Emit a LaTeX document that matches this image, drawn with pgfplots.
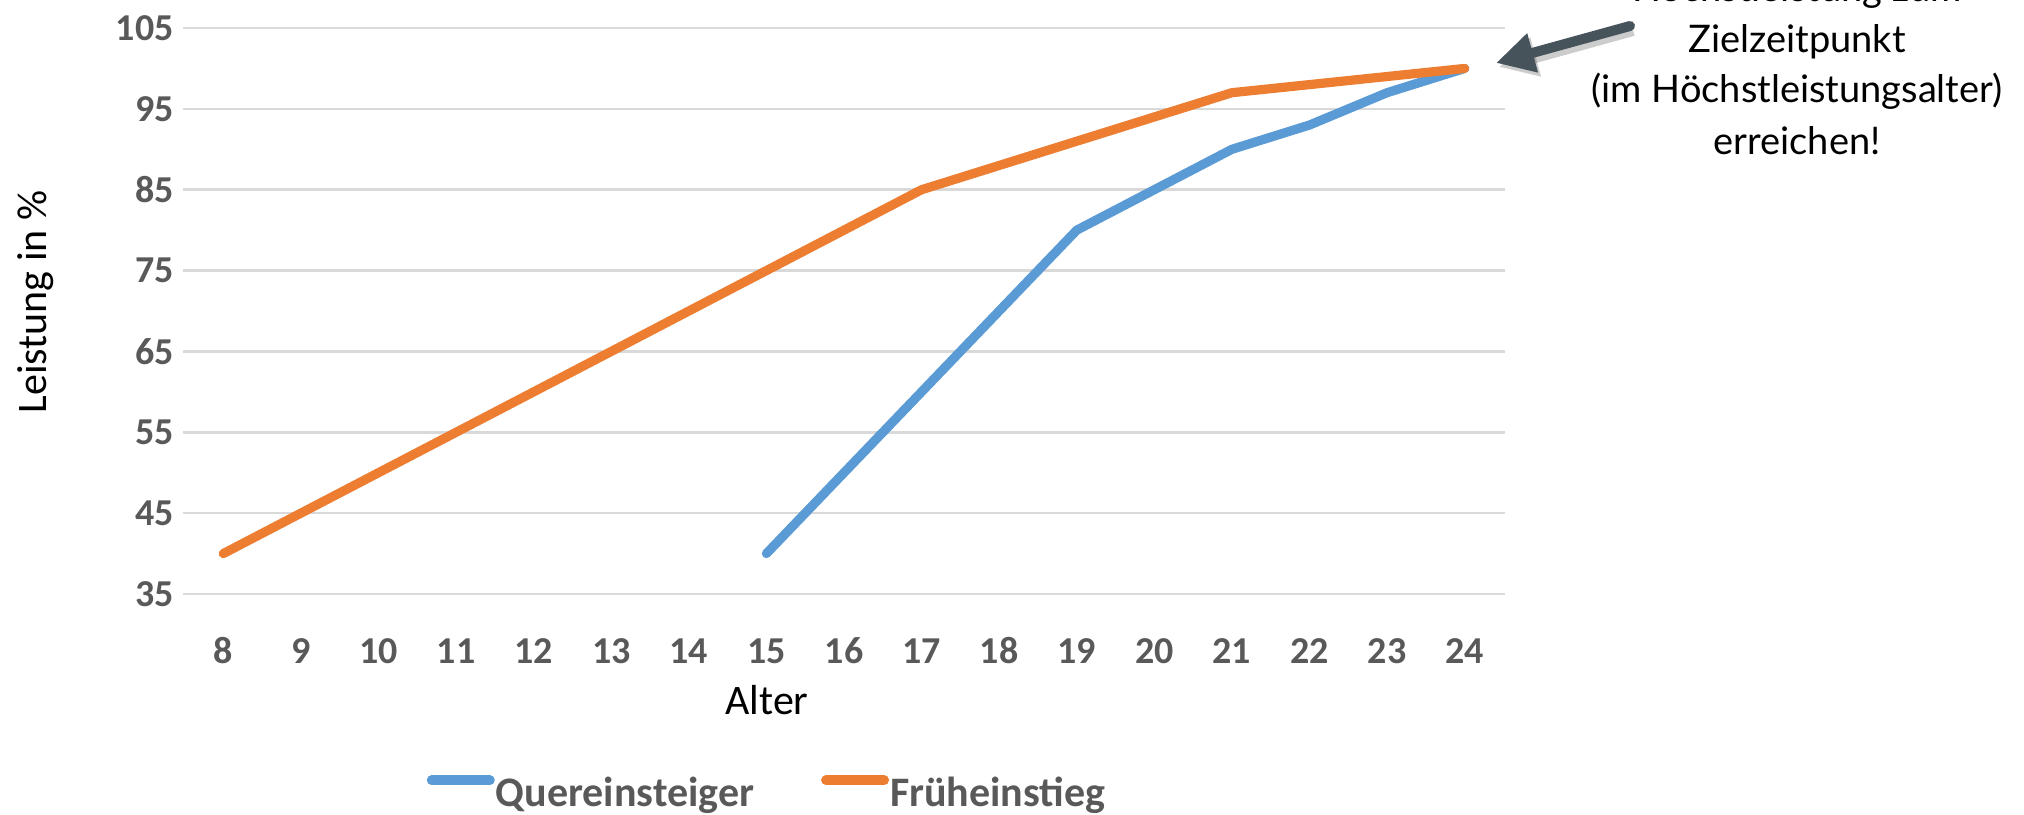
\documentclass[border=0pt]{standalone}
\usepackage{fontspec}
\setmainfont{Carlito}
\newfontfamily\annfont{Lato}
\usepackage{pgfplots}
\pgfplotsset{compat=1.18}
\usetikzlibrary{arrows.meta}

\definecolor{qblue}{HTML}{5B9BD5}
\definecolor{forange}{HTML}{ED7D31}
\definecolor{gridgray}{HTML}{D9D9D9}
\definecolor{ticktext}{HTML}{595959}
\definecolor{arrowgray}{HTML}{47535B}

\newcommand{\bigfont}{\fontsize{19bp}{23bp}\selectfont}
\newcommand{\labfont}{\fontsize{21bp}{25bp}\selectfont}

\begin{document}
\begin{tikzpicture}
\useasboundingbox (0,0) rectangle (1012bp,407.5bp);
\clip (0,0) rectangle (1012bp,407.5bp);
\begin{axis}[
    at={(91.5bp,110.5bp)},
    scale only axis,
    width=661bp,
    height=283bp,
    xmin=7.48, xmax=24.52,
    ymin=35, ymax=105,
    xtick={8,...,24},
    ytick={35,45,...,105},
    axis line style={draw=none},
    major tick length=0pt,
    ymajorgrids,
    grid style={gridgray, line width=1.3bp},
    /pgf/number format/assume math mode=true,
    tick label style={font=\bigfont\bfseries, text=ticktext},
    xticklabel style={anchor=base, inner sep=0pt, yshift=-34.5bp},
    yticklabel style={anchor=east, inner sep=0pt, xshift=-4.5bp},
    clip=false,
    legend columns=2,
    legend style={draw=none, fill=none, at={(0.4414,-0.3516)}, anchor=center,
        font=\labfont\bfseries, text=ticktext,
        nodes={inner sep=0.5bp},
        /tikz/every even column/.append style={column sep=33bp}},
    legend image code/.code={
        \draw[#1, line width=5bp, line cap=round] (2.5bp,6.5bp) -- (31.5bp,6.5bp);
    },
    ]
% Quereinsteiger
\addplot[qblue, line width=4.6bp, line join=round, line cap=round] coordinates {
    (15,40) (16,50) (17,60) (18,70) (19,80) (20,85)
    (21,90) (22,93) (23,97) (24,100)
};
\addlegendentry{Quereinsteiger}
% Frueheinstieg
\addplot[forange, line width=4.6bp, line join=round, line cap=round] coordinates {
    (8,40) (9,45) (10,50) (11,55) (12,60) (13,65) (14,70) (15,75) (16,80)
    (17,85) (18,88) (19,91) (20,94) (21,97) (22,98) (23,99) (24,100)
};
\addlegendentry{Früheinstieg}
\end{axis}

\node[rotate=90, anchor=base, font=\labfont] at (23.3bp,256.5bp) {Leistung in \%};
\node[anchor=base, font=\labfont] at (383.5bp,50bp) {Alter};

% annotation
\draw[black, opacity=0.2, line width=6bp, -{Triangle[length=19bp,width=19bp]}]
    (816.5bp,392.5bp) -- (749.5bp,374bp);
\draw[arrowgray, line width=5bp, line cap=round, -{Triangle[length=19bp,width=19bp]}]
    (815bp,394.5bp) -- (748bp,376bp);
\begin{scope}[every node/.style={anchor=base, font=\annfont\fontsize{19bp}{25bp}\selectfont}]
\node at (898.5bp,406.5bp) {Höchstleistung zum};
\node at (898.5bp,381bp) {Zielzeitpunkt};
\node at (898.5bp,356bp) {(im Höchstleistungsalter)};
\node at (898.5bp,330bp) {erreichen!};
\end{scope}
\end{tikzpicture}
\end{document}
